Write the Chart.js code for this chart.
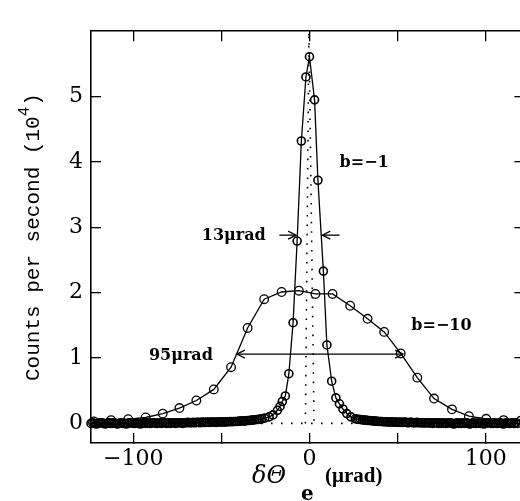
<!DOCTYPE html>
<html>
<head>
<meta charset="utf-8">
<script src="https://cdn.jsdelivr.net/npm/chart.js@4.4.1/dist/chart.umd.min.js"></script>
<style>
html, body { margin: 0; padding: 0; background: #fff; overflow: hidden; }
#wrap { width: 530px; height: 501px; }
</style>
</head>
<body>
<div id="wrap"><canvas id="mainGraph" width="530" height="501"></canvas></div>
<script>
// b = -1 scan (narrow peak), x in microrad, y in 10^4 counts/s
var narrowX = [
  -124,-123,-122,-121,-120,-119,-118,-117,-116,-115,-114,-113,-112,-111,-110,-109,-108,-107,-106,-105,
  -104,-103,-102,-101,-100,-99,-98,-97,-96,-95,-94,-93,-92,-91,-90,-89,-88,-87,-86,-85,
  -84,-83,-82,-81,-80,-79,-78,-77,-76,-75,
  -74,-73,-72,-71,-70,-69,-68,-67,-66,-65,-64,-63,-62,-61,-60,-59,-58,-57,-56,-55,-54,-53,-52,-51,
  -50,-49,-48,-47,-46,-45,-44,-43,-42,-41,-40,-39,-38,-37,-36,-35,-34,-33,-32,-31,-30,-29,-28,-27,
  -25.4,-22.9,-20.7,-18.2,-16.7,-15.4,-13.7,-11.7,-9.3,-7.0,-4.6,-2.0,0.0,2.9,4.8,7.9,9.9,12.6,15.0,17.0,19.0,21.2,23.5,26.0,
  27,28,29,30,31,32,33,34,35,36,37,38,39,40,41,42,43,44,45,46,47,48,49,50,
  51,52,53,54,55,56,57,58,59,60,61,62,63,64,65,66,67,68,69,70,71,72,73,74,
  75,76,77,78,79,80,81,82,83,84,85,86,87,88,89,90,91,92,93,94,95,96,97,98,99,100,
  101,102,103,104,105,106,107,108,109,110,111,112,113,114,115,116,117,118
];
var narrowY = [
  0.00,0.01,0.00,-0.01,0.00,0.01,0.01,0.00,-0.01,0.00,0.01,0.00,0.00,0.01,0.00,-0.01,0.00,0.01,0.00,0.00,
  -0.01,0.00,0.01,0.01,0.00,0.00,0.01,0.00,-0.01,0.00,0.01,0.00,0.01,0.00,0.00,0.01,0.01,0.00,0.00,0.01,
  0.00,0.01,0.01,0.00,0.01,0.00,0.01,0.01,0.00,0.01,
  0.01,0.01,0.00,0.01,0.01,0.015,0.01,0.01,0.015,0.01,0.015,0.015,0.01,0.02,0.015,0.015,0.02,0.015,0.02,0.02,0.02,0.015,0.02,0.025,
  0.02,0.025,0.02,0.025,0.025,0.03,0.025,0.03,0.03,0.03,0.035,0.035,0.04,0.035,0.04,0.045,0.045,0.05,0.05,0.055,0.06,0.06,0.065,0.07,
  0.08,0.10,0.13,0.20,0.26,0.335,0.42,0.76,1.54,2.79,4.32,5.30,5.61,4.95,3.72,2.33,1.20,0.645,0.39,0.30,0.22,0.15,0.10,0.07,
  0.065,0.06,0.06,0.055,0.05,0.05,0.045,0.045,0.04,0.04,0.035,0.035,0.03,0.03,0.03,0.025,0.025,0.025,0.02,0.025,0.02,0.02,0.02,0.015,
  0.02,0.015,0.015,0.02,0.015,0.01,0.015,0.015,0.01,0.01,0.015,0.01,0.01,0.01,0.005,0.01,0.01,0.005,0.01,0.00,0.01,0.01,0.00,0.01,
  0.00,0.01,0.00,0.00,0.01,0.01,0.00,-0.01,0.00,0.01,0.00,0.00,0.01,0.00,0.01,0.00,-0.01,0.00,0.01,0.00,0.00,0.01,0.00,0.00,-0.01,0.00,
  0.01,0.01,0.00,0.00,0.01,0.00,0.00,0.01,0.00,-0.01,0.00,0.01,0.00,0.00,0.01,0.00,0.01,0.00
];

// b = -10 scan (wide peak)
var wideX = [-122.4,-112.6,-102.9,-93.0,-83.3,-73.8,-64.2,-54.3,-44.5,-35.1,-25.7,-15.8,-6.0,3.4,13.1,23.1,33.0,42.4,51.8,61.2,70.7,80.9,90.5,100.3,110.2,119.9];
var wideY = [0.03,0.05,0.065,0.09,0.15,0.235,0.35,0.52,0.86,1.46,1.90,2.01,2.03,1.98,1.98,1.80,1.60,1.40,1.07,0.70,0.38,0.215,0.11,0.07,0.05,0.04];

// dotted resolution profile and dotted zero line
var shapeX = [-2.3, -0.3, 2.6];
var shapeY = [0, 6.0, 0];
var baseX = [-124, 122];
var baseY = [0, 0];

var xTicks = [-100, -50, 0, 50, 100];
var xTickLabels = { '-100': '\u2212100', '0': '0', '100': '100' };
var yTicks = [0, 1, 2, 3, 4, 5];

// labels and width arrows, in data units
var notes = [
  { text: 'b=\u22121', x: 17.1, y: 3.98, align: 'left' },
  { text: '13\u03bcrad', x: -24.8, y: 2.87, align: 'right' },
  { text: 'b=\u221210', x: 57.8, y: 1.49, align: 'left' },
  { text: '95\u03bcrad', x: -54.8, y: 1.03, align: 'right' }
];
var arrows = [
  { x1: -17.1, x2: -7.6, y: 2.88, both: false },
  { x1: 17.1, x2: 7.3, y: 2.88, both: false },
  { x1: -41.2, x2: 53.1, y: 1.06, both: true }
];

function pts(xs, ys) {
  return xs.map(function (x, i) { return { x: x, y: ys[i] }; });
}

function head(ctx, x, y, dir) {
  ctx.beginPath();
  ctx.moveTo(x - dir * 8, y - 4);
  ctx.lineTo(x, y);
  ctx.lineTo(x - dir * 8, y + 4);
  ctx.stroke();
}

var notesPlugin = {
  id: 'notes',
  afterDatasetsDraw: function (chart) {
    var ctx = chart.ctx, xs = chart.scales.x, ys = chart.scales.y;
    ctx.save();
    ctx.strokeStyle = '#000';
    ctx.fillStyle = '#000';
    ctx.lineWidth = 1.3;
    arrows.forEach(function (a) {
      var p1 = xs.getPixelForValue(a.x1), p2 = xs.getPixelForValue(a.x2), py = ys.getPixelForValue(a.y);
      ctx.beginPath();
      ctx.moveTo(p1, py);
      ctx.lineTo(p2, py);
      ctx.stroke();
      head(ctx, p2, py, p2 > p1 ? 1 : -1);
      if (a.both) head(ctx, p1, py, p1 > p2 ? 1 : -1);
    });
    ctx.font = 'bold 16px "DejaVu Serif"';
    ctx.textBaseline = 'middle';
    notes.forEach(function (n) {
      ctx.textAlign = n.align;
      ctx.fillText(n.text, xs.getPixelForValue(n.x), ys.getPixelForValue(n.y));
    });
    ctx.restore();
  },
  afterDraw: function (chart) {
    var ctx = chart.ctx;
    ctx.save();
    ctx.fillStyle = '#000';
    ctx.textBaseline = 'middle';
    ctx.textAlign = 'left';
    // x axis title
    ctx.font = 'italic 24px "DejaVu Serif"';
    ctx.fillText('\u03b4\u0398', 252, 477);
    ctx.font = 'bold 20px "DejaVu Serif"';
    ctx.fillText('e', 301, 495);
    ctx.font = 'bold 21px "Liberation Serif"';
    ctx.fillText('(\u03bcrad)', 325, 477);
    // y axis title
    ctx.translate(33, 381);
    ctx.rotate(-Math.PI / 2);
    ctx.font = '21px "Liberation Mono"';
    var t1 = 'Counts per second (10';
    ctx.fillText(t1, 0, 0);
    var w = ctx.measureText(t1).width;
    ctx.font = '16px "Liberation Mono"';
    ctx.fillText('4', w, -8);
    var w2 = ctx.measureText('4').width;
    ctx.font = '21px "Liberation Mono"';
    ctx.fillText(')', w + w2 + 1, 0);
    ctx.restore();
  }
};

var gridOpts = { drawOnChartArea: false, drawTicks: true, tickLength: -10, color: '#000', lineWidth: 1.3 };
var borderOpts = { display: true, color: '#000', width: 1.6 };

var ctx = document.getElementById('mainGraph').getContext('2d');
var chart = new Chart(ctx, {
  type: 'line',
  data: {
    datasets: [
      {
        label: 'b=-1',
        data: pts(narrowX, narrowY),
        borderColor: '#000',
        borderWidth: 1.3,
        pointRadius: 4,
        pointBorderWidth: 1.6,
        pointBorderColor: '#000',
        pointBackgroundColor: 'rgba(0,0,0,0)',
        tension: 0,
        fill: false,
        clip: false
      },
      {
        label: 'b=-10',
        data: pts(wideX, wideY),
        borderColor: '#000',
        borderWidth: 1.3,
        pointRadius: 4.3,
        pointBorderWidth: 1.3,
        pointBorderColor: '#000',
        pointBackgroundColor: 'rgba(0,0,0,0)',
        tension: 0,
        fill: false
      },
      {
        label: 'resolution',
        data: pts(shapeX, shapeY),
        borderColor: '#000',
        borderWidth: 1.6,
        borderDash: [1.6, 7.8],
        pointRadius: 0,
        tension: 0,
        fill: false
      },
      {
        label: 'zero',
        data: pts(baseX, baseY),
        borderColor: '#000',
        borderWidth: 1.6,
        borderDash: [1.6, 8.4],
        pointRadius: 0,
        fill: false
      }
    ]
  },
  options: {
    responsive: false,
    animation: false,
    events: [],
    layout: { padding: { left: 0, top: 13, right: 2, bottom: 0 } },
    plugins: { legend: { display: false }, tooltip: { enabled: false } },
    scales: {
      x: {
        type: 'linear', position: 'bottom', min: -124, max: 122,
        afterBuildTicks: function (s) { s.ticks = xTicks.map(function (v) { return { value: v }; }); },
        afterFit: function (s) { s.height = 58; },
        grid: gridOpts, border: borderOpts,
        ticks: {
          color: '#000', padding: 13, maxRotation: 0, autoSkip: false,
          font: { family: 'DejaVu Serif', size: 22 },
          callback: function (v) { return xTickLabels[String(v)] || ''; }
        }
      },
      x2: {
        type: 'linear', position: 'top', min: -124, max: 122,
        afterBuildTicks: function (s) { s.ticks = xTicks.map(function (v) { return { value: v }; }); },
        afterFit: function (s) { s.height = 0; },
        grid: gridOpts, border: borderOpts,
        ticks: { display: false }
      },
      y: {
        type: 'linear', position: 'left', min: -0.3, max: 6.0,
        afterBuildTicks: function (s) { s.ticks = yTicks.map(function (v) { return { value: v }; }); },
        afterFit: function (s) { s.width = 91; },
        grid: gridOpts, border: borderOpts,
        ticks: {
          color: '#000', padding: 18,
          font: { family: 'DejaVu Serif', size: 22 },
          callback: function (v) { return String(v); }
        }
      },
      y2: {
        type: 'linear', position: 'right', min: -0.3, max: 6.0,
        afterBuildTicks: function (s) { s.ticks = yTicks.map(function (v) { return { value: v }; }); },
        afterFit: function (s) { s.width = 0; },
        grid: gridOpts, border: borderOpts,
        ticks: { display: false }
      }
    }
  },
  plugins: [notesPlugin]
});
</script>
</body>
</html>
